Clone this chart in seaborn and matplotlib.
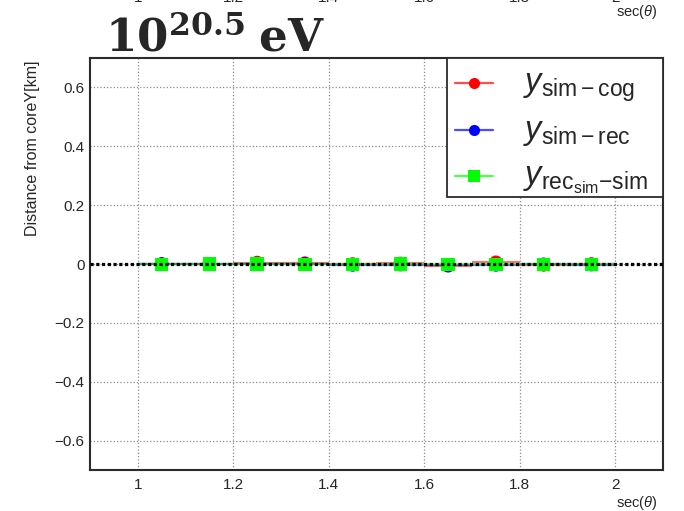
import matplotlib
matplotlib.use("Agg")
import matplotlib.pyplot as plt
import matplotlib.transforms as mtransforms
from matplotlib.patches import Rectangle
from matplotlib.ticker import MultipleLocator, FixedLocator, FixedFormatter
import numpy as np
import pandas as pd
import seaborn as sns

# ---- data -------------------------------------------------------------
sec_theta = [1.05, 1.15, 1.25, 1.35, 1.45, 1.55, 1.65, 1.75, 1.85, 1.95]
bin_half_width = 0.05
y_sim_cog = [0.000, 0.000, 0.005, 0.003, 0.000, 0.002, -0.006, 0.006, -0.003, 0.000]
y_sim_rec = [0.000, 0.000, 0.001, 0.000, -0.003, -0.002, -0.005, -0.003, -0.001, -0.002]
y_rec_sim = [-0.001, 0.000, 0.000, -0.001, -0.001, 0.000, -0.001, -0.001, -0.001, -0.001]

series_names = ["sim-cog", "sim-rec", "recsim-sim"]
series_labels = [r"$y_{\mathrm{sim-cog}}$",
                 r"$y_{\mathrm{sim-rec}}$",
                 r"$y_{\mathrm{rec}_{\mathrm{sim}}\mathrm{-sim}}$"]
series_colors = {"sim-cog": "#ff0000", "sim-rec": "#0000ff", "recsim-sim": "#00ff00"}
series_markers = {"sim-cog": "o", "sim-rec": "o", "recsim-sim": "s"}

x_ticks = [1.0, 1.2, 1.4, 1.6, 1.8, 2.0]
x_tick_labels = ["1", "1.2", "1.4", "1.6", "1.8", "2"]
y_ticks = [-0.6, -0.4, -0.2, 0.0, 0.2, 0.4, 0.6]
y_tick_labels = ["\u22120.6", "\u22120.4", "\u22120.2", "0", "0.2", "0.4", "0.6"]

title_text = r"$\mathbf{10^{20.5}\ eV}$"
x_title = r"sec($\theta$)"
y_title = "Distance from coreY[km]"

df = pd.DataFrame({
    "sec": sec_theta * 3,
    "y": y_sim_cog + y_sim_rec + y_rec_sim,
    "series": [s for s in series_names for _ in sec_theta],
})

# ---- style ------------------------------------------------------------
sns.set_style("white")
plt.rcParams["font.family"] = ["Liberation Sans", "DejaVu Sans"]
plt.rcParams["mathtext.fontset"] = "custom"
plt.rcParams["mathtext.rm"] = "Liberation Sans"
plt.rcParams["mathtext.it"] = "Liberation Sans:italic"
plt.rcParams["mathtext.bf"] = "DejaVu Serif:bold"

W, H = 684, 511
AX_L, AX_R, AX_T, AX_B = 90, 663, 58, 470
fig = plt.figure(figsize=(W / 100, H / 100), dpi=100)
ax = fig.add_axes([AX_L / W, 1 - AX_B / H, (AX_R - AX_L) / W, (AX_B - AX_T) / H])


def ax_x(px):
    return (px - AX_L) / (AX_R - AX_L)


def ax_y(py):
    return (AX_B - py) / (AX_B - AX_T)


# horizontal bin-width bars
for name in series_names:
    sub = df[df["series"] == name]
    ax.errorbar(sub["sec"], sub["y"], xerr=bin_half_width, fmt="none",
                ecolor=series_colors[name], elinewidth=1.6, alpha=0.55,
                capsize=0, zorder=3)

sns.scatterplot(data=df, x="sec", y="y", hue="series", style="series",
                palette=series_colors, markers=series_markers,
                hue_order=series_names, style_order=series_names,
                s=95, linewidth=0, legend=False, ax=ax, zorder=4)

# reference line at zero
ax.axhline(0, color="black", lw=2.3, ls=(0, (1, 0.8)), zorder=6)

ax.set_xlim(0.9, 2.1)
ax.set_ylim(-0.7, 0.7)
ax.xaxis.set_major_locator(FixedLocator(x_ticks))
ax.xaxis.set_major_formatter(FixedFormatter(x_tick_labels))
ax.yaxis.set_major_locator(FixedLocator(y_ticks))
ax.yaxis.set_major_formatter(FixedFormatter(y_tick_labels))
ax.xaxis.set_minor_locator(MultipleLocator(0.05))
ax.yaxis.set_minor_locator(MultipleLocator(0.05))
ax.set_xlabel("")
ax.set_ylabel("")

ax.grid(True, which="major", linestyle=":", color="#8c8c8c", lw=0.9, zorder=0)
ax.set_axisbelow(True)

for sp in ax.spines.values():
    sp.set_color("#2b2b2b")
    sp.set_linewidth(1.5)

ax.tick_params(axis="x", which="major", direction="in", length=11, width=1.1,
               color="#2b2b2b", labelsize=11, pad=6, top=False)
ax.tick_params(axis="x", which="minor", direction="in", length=5.5, width=1.0,
               color="#555555", top=False)
ax.tick_params(axis="y", which="major", direction="in", length=12, width=1.1,
               color="#2b2b2b", labelsize=11, pad=4, right=False)
ax.tick_params(axis="y", which="minor", direction="in", length=7, width=1.0,
               color="#777777", right=False)

# legend box with evenly spaced rows (ROOT TLegend layout)
box_l, box_r, box_t, box_b = 447, 663, 58, 197
ax.add_patch(Rectangle((ax_x(box_l), ax_y(box_b)), ax_x(box_r) - ax_x(box_l),
                       ax_y(box_t) - ax_y(box_b), transform=ax.transAxes,
                       facecolor="white", edgecolor="#2b2b2b", lw=1.3,
                       zorder=10, clip_on=False))
row_py = [83, 129.5, 176]
for name, label, py in zip(series_names, series_labels, row_py):
    c = series_colors[name]
    ax.plot([ax_x(455), ax_x(493)], [ax_y(py)] * 2, transform=ax.transAxes,
            color=c, lw=1.6, alpha=0.7, zorder=11, clip_on=False)
    ax.plot([ax_x(474)], [ax_y(py)], transform=ax.transAxes, ls="none",
            marker=series_markers[name], markersize=8, markeredgewidth=0,
            color=c, zorder=12, clip_on=False)
    ax.text(ax_x(523), ax_y(py + 9), label, transform=ax.transAxes,
            ha="left", va="baseline", fontsize=23.5, zorder=12)

# titles
fig.text(105 / W, 1 - 52 / H, title_text, ha="left", va="baseline", fontsize=32.5)
fig.text(658 / W, 1 - 503 / H, x_title, ha="right", va="center", fontsize=10.5)
fig.text(658 / W, 1 - 12 / H, x_title, ha="right", va="center", fontsize=10.5)
fig.text(33 / W, 1 - 60 / H, y_title, rotation=90, ha="center", va="top", fontsize=11.5)

# tick labels of the panel above, cut by the top edge
trans = mtransforms.blended_transform_factory(ax.transData, fig.transFigure)
for v, lab in zip(x_ticks, x_tick_labels):
    fig.text(v, 1 - 1.5 / H, lab, transform=trans, ha="center", va="baseline",
             fontsize=11)

fig.savefig("out.png", dpi=100)
